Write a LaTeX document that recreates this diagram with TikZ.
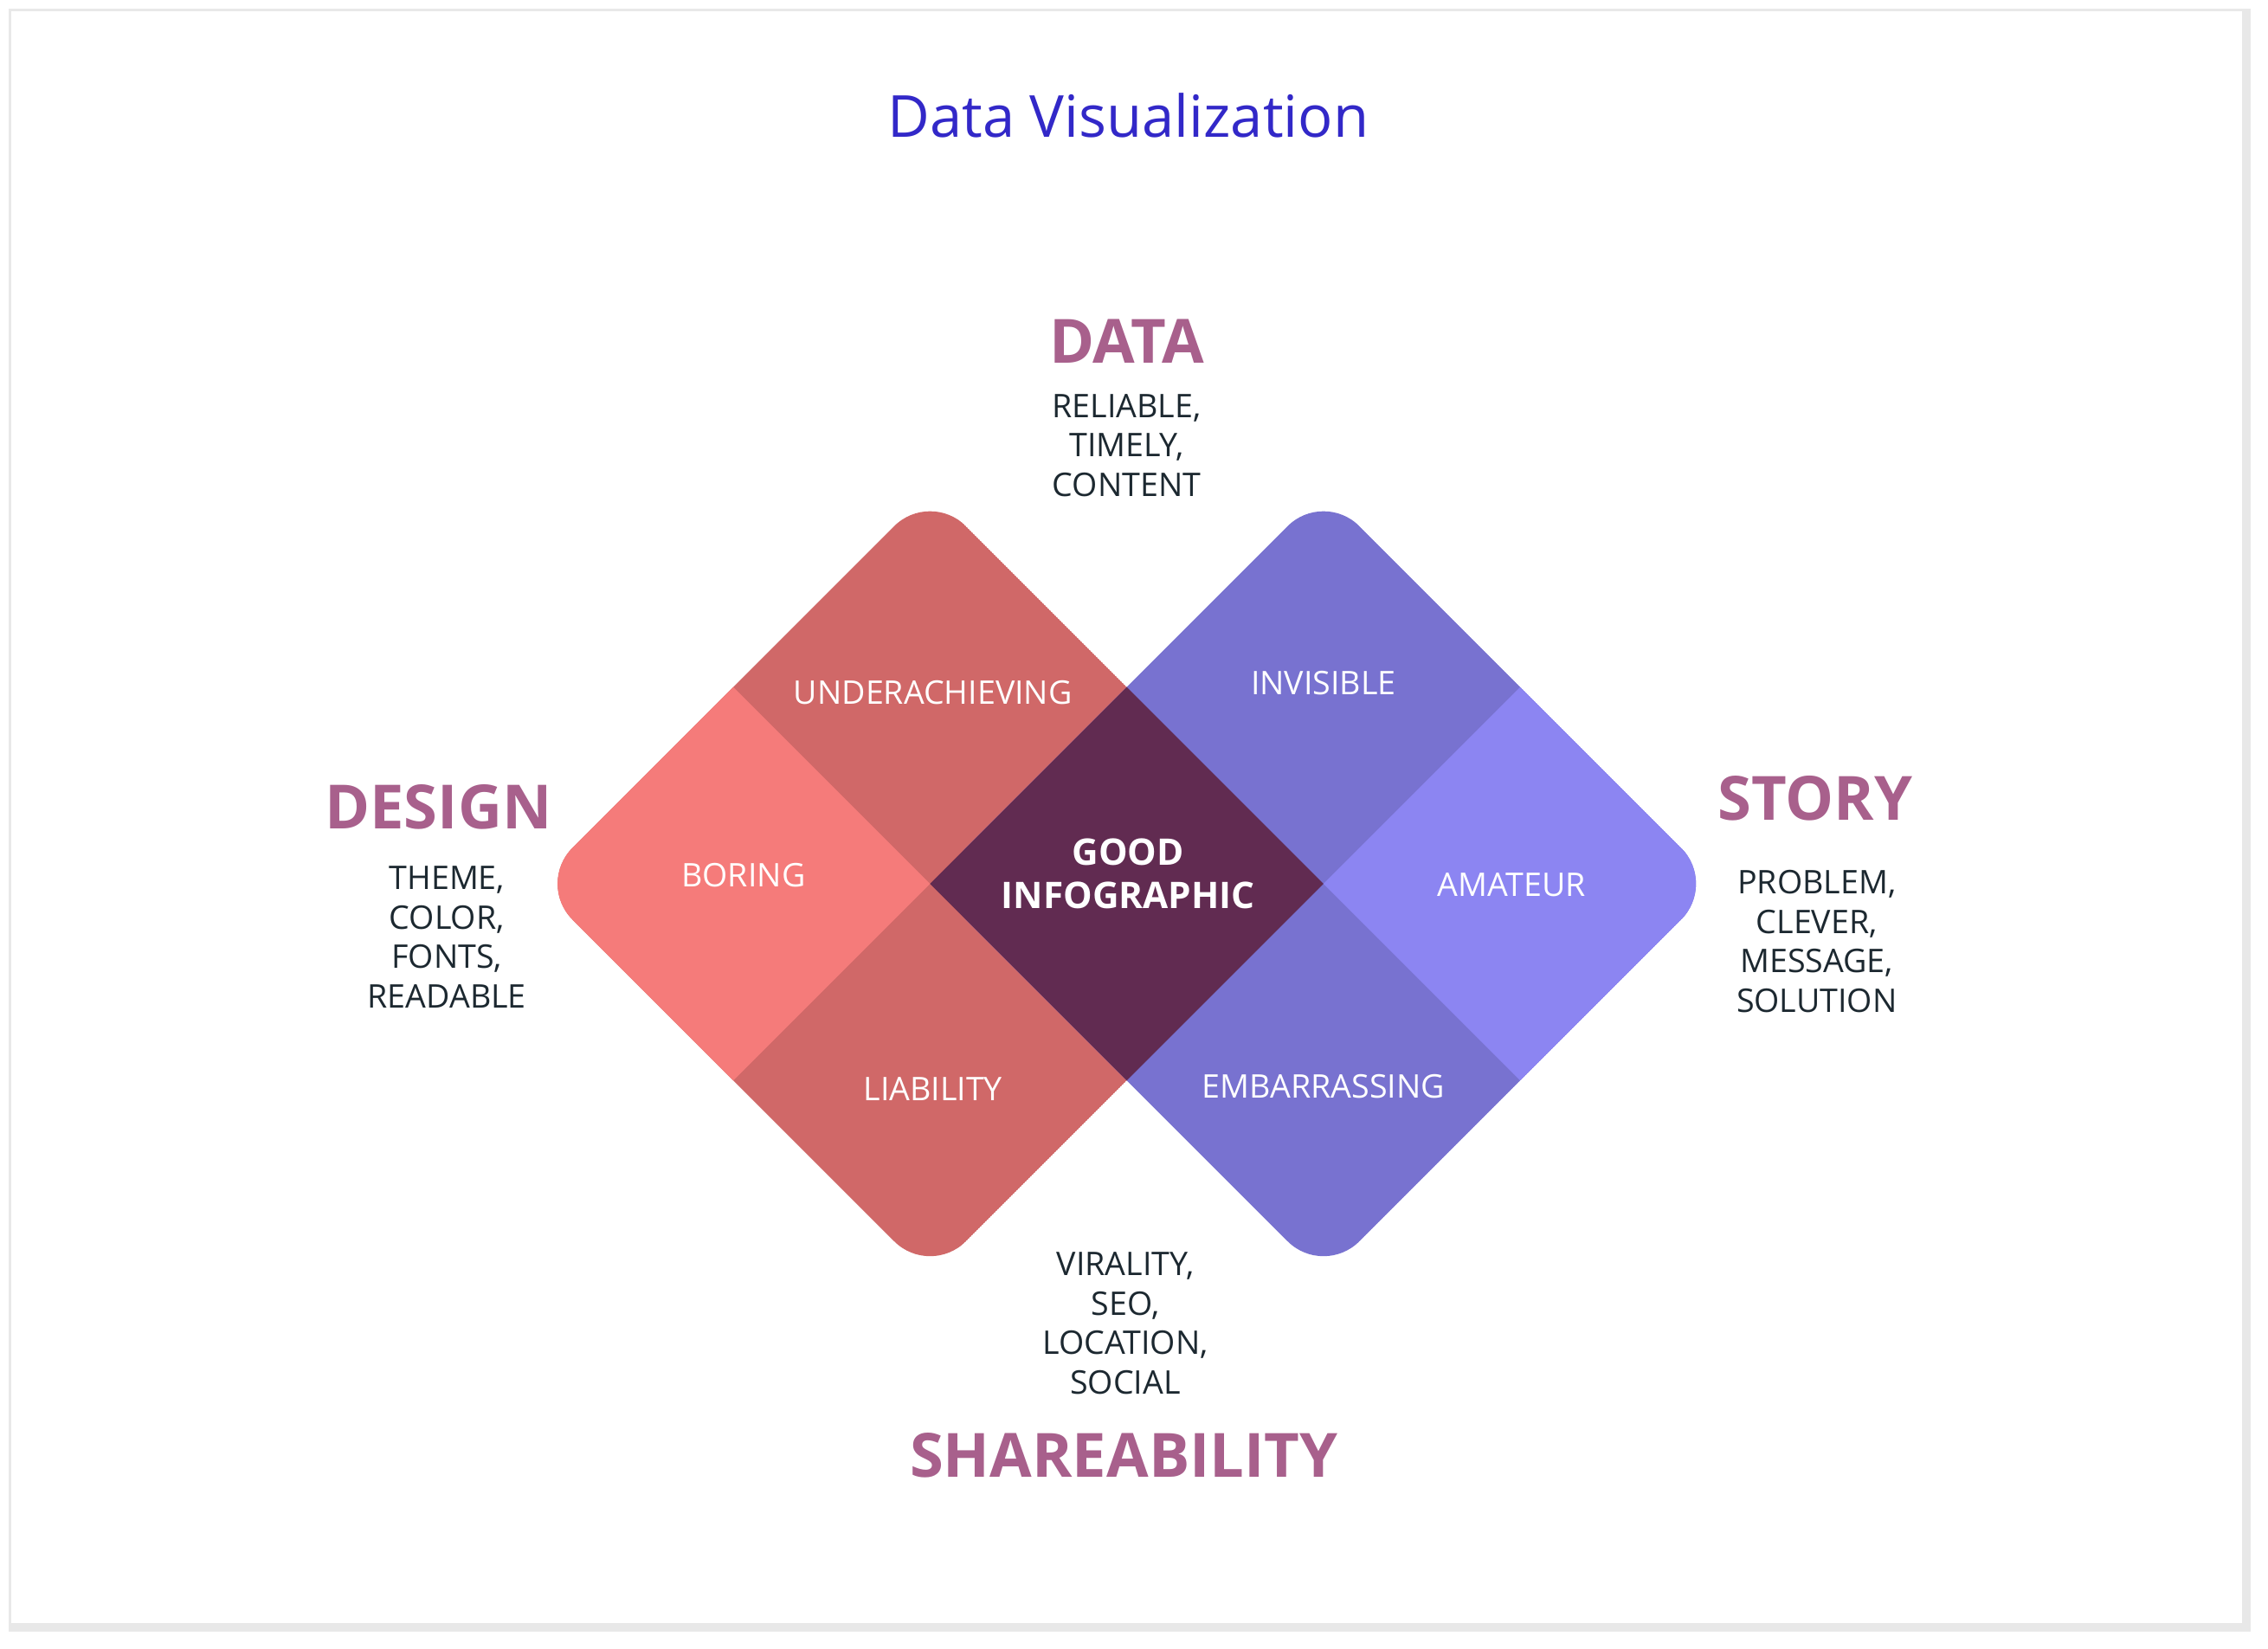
\documentclass[tikz,border=0pt]{standalone}
\usepackage{fontspec}
\setmainfont{Open Sans}
\definecolor{titleblue}{RGB}{50,40,200}
\definecolor{headmauve}{RGB}{168,96,140}
\definecolor{textdark}{RGB}{28,40,48}
\definecolor{leftbase}{RGB}{208,104,104}
\definecolor{leftlight}{RGB}{245,123,122}
\definecolor{centerdark}{RGB}{97,43,81}
\definecolor{rightbase}{RGB}{120,114,208}
\definecolor{rightlight}{RGB}{140,133,242}
\tikzset{
  heading/.style={text=headmauve, font=\fontsize{12}{14}\selectfont\bfseries},
  listing/.style={text=textdark, align=center, font=\fontsize{6.4}{7.75}\selectfont},
  zone/.style={text=white, align=center, font=\fontsize{6.4}{7.6}\selectfont},
}
\begin{document}
\begin{tikzpicture}
\useasboundingbox (0,0) rectangle (15.68,11.40);
% card
\fill[gray!18] (0.06,0.12) rectangle (15.56,11.34);
\fill[white] (0.08,0.18) rectangle (15.50,11.32);

% left diamond
\begin{scope}
\clip[rounded corners=0.35cm] (3.71,5.29) -- (6.43,8.01) -- (9.15,5.29) -- (6.43,2.57) -- cycle;
\fill[leftbase] (3.71,5.29) -- (6.43,8.01) -- (9.15,5.29) -- (6.43,2.57) -- cycle;
\fill[leftlight] (3.71,5.29) -- (5.07,6.65) -- (6.43,5.29) -- (5.07,3.93) -- cycle;
\end{scope}
% right diamond
\begin{scope}
\clip[rounded corners=0.35cm] (6.43,5.29) -- (9.15,8.01) -- (11.87,5.29) -- (9.15,2.57) -- cycle;
\fill[rightbase] (6.43,5.29) -- (9.15,8.01) -- (11.87,5.29) -- (9.15,2.57) -- cycle;
\fill[rightlight] (9.15,5.29) -- (10.51,6.65) -- (11.87,5.29) -- (10.51,3.93) -- cycle;
\end{scope}
% overlap
\fill[centerdark] (6.43,5.29) -- (7.79,6.65) -- (9.15,5.29) -- (7.79,3.93) -- cycle;

% texts
\node[text=titleblue, font=\fontsize{11.4}{13}\selectfont] (title) at (7.80,10.60) {Data Visualization};

\node[heading] (data) at (7.79,9.04) {DATA};
\node[listing] (datalist) at (7.79,8.32) {RELIABLE,\\TIMELY,\\CONTENT};
\node[heading] (design) at (3.03,5.82) {DESIGN};
\node[listing] (designlist) at (3.09,4.92) {THEME,\\COLOR,\\FONTS,\\READABLE};
\node[heading] (story) at (12.55,5.88) {STORY};
\node[listing] (storylist) at (12.56,4.89) {PROBLEM,\\CLEVER,\\MESSAGE,\\SOLUTION};
\node[heading] (share) at (7.77,1.34) {SHAREABILITY};
\node[listing] (sharelist) at (7.78,2.25) {VIRALITY,\\SEO,\\LOCATION,\\SOCIAL};

\node[zone] (under) at (6.45,6.61) {UNDERACHIEVING};
\node[zone] (invisible) at (9.15,6.68) {INVISIBLE};
\node[zone] (boring) at (5.14,5.35) {BORING};
\node[zone, font=\fontsize{7.2}{8.4}\selectfont\bfseries] (good) at (7.80,5.36) {GOOD\\INFOGRAPHIC};
\node[zone] (amateur) at (10.45,5.28) {AMATEUR};
\node[zone] (liability) at (6.45,3.87) {LIABILITY};
\node[zone] (embarrass) at (9.15,3.89) {EMBARRASSING};
\end{tikzpicture}
\end{document}
